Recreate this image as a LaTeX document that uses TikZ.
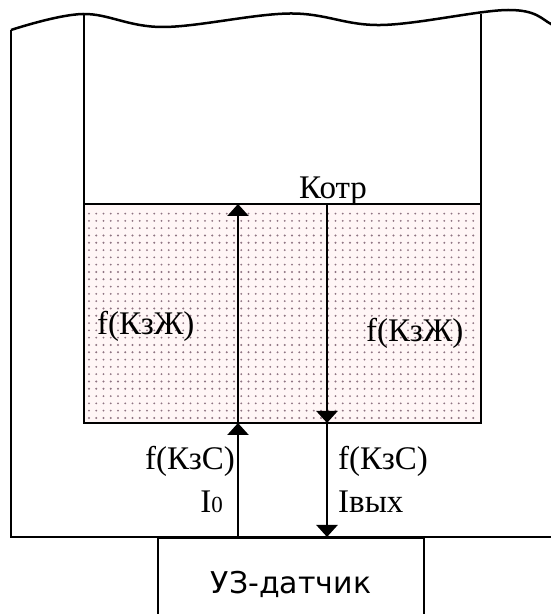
\documentclass[tikz,border=0pt]{standalone}
\usepackage{fontspec}
\setmainfont{Liberation Serif}
\newfontfamily\sensfont{DejaVu Sans}
\usepackage{xcolor}
\definecolor{cDot}{HTML}{8E7482}
\definecolor{cLiq}{HTML}{FFF6F6}
\usetikzlibrary{arrows.meta, positioning, calc}
\tikzset{
  wall/.style  = {draw=black, line width=2.5pt},
  ray/.style   = {line width=2.5pt, -{Triangle[width=21pt,length=12pt]}},
  lbl/.style   = {inner sep=0pt, font=\fontsize{33}{37}\selectfont},
}
\newcommand{\smtxt}[1]{{\fontsize{23}{27}\selectfont #1}}

\begin{document}
\begin{tikzpicture}[x=1pt, y=1pt,
  sens/.style={rectangle, draw=black, line width=2.5pt,
               minimum width=266pt, minimum height=92pt,
               font=\sensfont\fontsize{30}{34}\selectfont},
]
  \useasboundingbox (0,0) rectangle (551,614);
  \begin{scope}
  \clip (0,0) rectangle (551,614);

  %% Liquid with dotted fill
  \fill[cLiq] (84,191) rectangle (481,410);
  \foreach \i in {0,...,53}
    \foreach \j in {0,...,28}
      \fill[cDot] ({89+7.25*\i},{196+7.3*\j}) circle (1.05);

  %% Outer frame and broken top
  \draw[wall] plot[smooth, tension=0.6] coordinates
        {(11,584) (83,600) (163,587) (290,600.5) (381,589)
         (508,604) (551,590) (566,574)};
  \draw[wall] (11,584) -- (11,77) -- (560,77);

  %% Tank walls and liquid level
  \draw[wall] (84,600) -- (84,191) -- (481,191) -- (481,600);
  \draw[wall] (84,410) -- (481,410);

  %% Sensor
  \node[sens, anchor=north] (sensor) at (291,77) {УЗ-датчик};

  \coordinate (upB) at (238,77);
  \coordinate (upM) at (238,191);
  \coordinate (upT) at (238,410);
  \coordinate (dnT) at (327,410);
  \coordinate (dnM) at (327,191);
  \coordinate (dnB) at (327,77);

  \draw[ray] (upB) -- (upM);
  \draw[ray] (upM) -- (upT);
  \draw[ray] (dnT) -- (dnM);
  \draw[ray] (dnM) -- (dnB);

  %% Labels
  \node[lbl, anchor=base west] (kotr) at (299,415) {Котр};
  \node[lbl, anchor=base west] (kzjL) at (97,279)  {f(КзЖ)};
  \node[lbl, anchor=base west] (kzjR) at (366,272) {f(КзЖ)};
  \node[lbl, anchor=base east] (kzsL) at (235,144) {f(КзС)};
  \node[lbl, anchor=base east] (izero) at (223,101) {I\smtxt{0}};
  \node[lbl, anchor=base west] (kzsR) at (338,144) {f(КзС)};
  \node[lbl, anchor=base west] (iout) at (338,101) {Iвых};
  \end{scope}
\end{tikzpicture}
\end{document}
